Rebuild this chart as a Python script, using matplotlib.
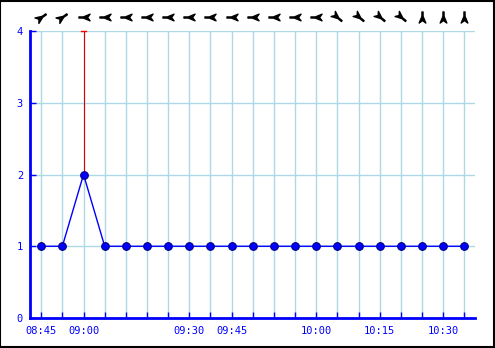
import matplotlib
matplotlib.use("Agg")
import matplotlib.pyplot as plt
import numpy as np
from matplotlib.path import Path
from matplotlib.markers import MarkerStyle
from matplotlib.patches import Rectangle
import matplotlib.transforms as mtransforms

# wind samples (categorical x positions)
speeds = [1, 1, 2, 1, 1, 1, 1, 1, 1, 1, 1, 1, 1, 1, 1, 1, 1, 1, 1, 1, 1]
gusts = [1, 1, 4, 1, 1, 1, 1, 1, 1, 1, 1, 1, 1, 1, 1, 1, 1, 1, 1, 1, 1]
bearings = [55, 55] + [270] * 12 + [130] * 4 + [0] * 3
tick_idx = [0, 2, 7, 9, 13, 16, 19]
tick_labels = ["08:45", "09:00", "09:30", "09:45", "10:00", "10:15", "10:30"]
y_ticks = [0, 1, 2, 3, 4]

blue = "#0000ff"
grid_col = "#add8e6"
font = "DejaVu Sans Mono"

fig = plt.figure(figsize=(4.95, 3.48), dpi=100)
ax = fig.add_axes([30 / 495, 1 - 318 / 348, 445 / 495, 287 / 348])

x = np.arange(len(speeds))

# gridlines
for xi in x:
    ax.axvline(xi, color=grid_col, lw=1, zorder=0)
for yv in y_ticks[1:]:
    ax.axhline(yv, color=grid_col, lw=1, zorder=0)

# gust lines
for xi, s, g in zip(x, speeds, gusts):
    if g > s:
        ax.vlines(xi, s, g, color="#e00000", lw=0.8, zorder=2)
        ax.plot([xi - 0.1, xi + 0.1], [g, g], color="red", lw=1, zorder=2, clip_on=False)

ax.plot(x, speeds, color=blue, lw=1, marker="o", markersize=5.5,
        markerfacecolor=blue, markeredgecolor="#000080", markeredgewidth=0.8, zorder=3)

# direction arrows above plot
verts = [(-0.1, 1.0), (0.1, 1.0), (0.1, 0.2), (0.6, -1.0), (0.0, -0.55),
         (-0.6, -1.0), (-0.1, 0.2), (-0.1, 1.0)]
codes = [Path.MOVETO] + [Path.LINETO] * 6 + [Path.CLOSEPOLY]
arrow_path = Path(verts, codes)
trans = mtransforms.blended_transform_factory(ax.transData, ax.transAxes)
for xi, b in zip(x, bearings):
    m = MarkerStyle(arrow_path).rotated(deg=-b)
    ax.plot(xi, 1.049, marker=m, markersize=8, color="black", linestyle="none",
            transform=trans, clip_on=False)

ax.set_xlim(-0.53, 20.5)
ax.set_ylim(0, 4)
ax.set_xticks(x, minor=False)
ax.set_xticklabels([tick_labels[tick_idx.index(i)] if i in tick_idx else "" for i in x])
ax.set_yticks(y_ticks)

for sp in ["top", "right"]:
    ax.spines[sp].set_visible(False)
for sp in ["left", "bottom"]:
    ax.spines[sp].set_color(blue)
    ax.spines[sp].set_linewidth(2)

ax.tick_params(axis="both", direction="in", length=4, width=1, color=blue,
               labelcolor=blue, labelsize=7.5)
ax.tick_params(axis="x", pad=6)
ax.tick_params(axis="y", pad=5)
for lab in ax.get_xticklabels() + ax.get_yticklabels():
    lab.set_fontfamily(font)

# outer frame
fig.patches.append(Rectangle((0.001, 0.002), 0.997, 0.996, transform=fig.transFigure,
                             fill=False, edgecolor="black", lw=1.5))

fig.savefig("out.png", dpi=100)
